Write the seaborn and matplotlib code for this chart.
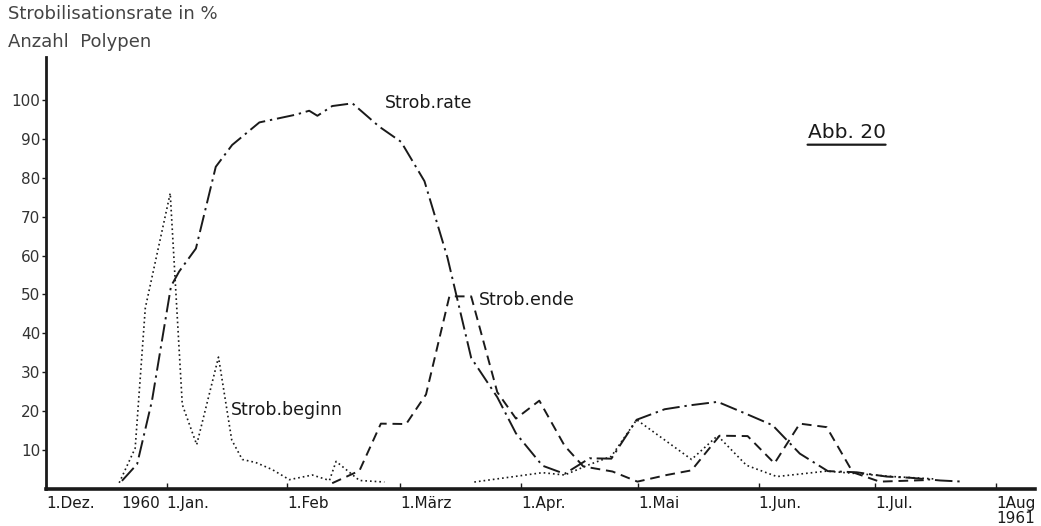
import numpy as np
import pandas as pd
import matplotlib
matplotlib.use("Agg")
import matplotlib.pyplot as plt
import seaborn as sns

# x = days since 1 Dec 1959, y = Strobilisationsrate in % / Anzahl Polypen
rate_day = [19.5, 23.4, 27.2, 32.1, 34.2, 38.5, 43.6, 47.8, 54.8, 64.2, 67.6, 69.7,
            73.5, 78.7, 85.6, 91.2, 97.2, 103.1, 109.2, 115.9, 120.7, 127.5, 133.2,
            139.6, 145.2, 151.7, 158.9, 165.3, 172.5, 179.4, 186.6, 193.6, 200.8,
            208.2, 215.9, 221.9, 229.6, 235.5]
rate_val = [2.1, 6.4, 22.6, 52.1, 55.9, 61.8, 82.8, 88.4, 94.2, 96.2, 97.2, 95.9,
            98.4, 99.1, 93.1, 89.2, 79.1, 59.5, 33.7, 23.6, 14.3, 6.0, 3.9,
            7.9, 7.8, 17.8, 20.5, 21.5, 22.4, 19.5, 16.4, 9.1, 4.6,
            4.3, 3.2, 2.9, 2.2, 1.9]

beginn_day_1 = [18.8, 22.9, 25.5, 31.9, 35.0, 38.7, 44.3, 47.7, 50.4, 53.9, 58.1,
                62.5, 68.4, 72.8, 74.5, 80.5, 86.9]
beginn_val_1 = [1.6, 10.5, 46.5, 76.0, 21.7, 11.4, 33.9, 12.6, 7.6, 6.8, 5.0,
                2.4, 3.6, 2.2, 7.1, 2.2, 1.8]
beginn_day_2 = [110.0, 127.5, 133.2, 139.6, 145.2, 151.7, 158.9, 165.8, 172.5,
                179.9, 187.7, 200.5, 217.5, 228.0]
beginn_val_2 = [1.8, 4.2, 3.6, 6.3, 8.4, 17.8, 12.6, 7.6, 13.7,
                6.1, 3.2, 4.6, 3.2, 2.6]

ende_day = [73.5, 80.5, 86.0, 92.5, 97.6, 103.6, 109.2, 115.9, 120.7, 126.7,
            133.2, 138.0, 145.5, 151.9, 159.4, 165.8, 173.0, 180.2, 187.1,
            193.6, 200.5, 207.2, 214.1, 226.2]
ende_val = [1.5, 4.7, 16.8, 16.7, 24.3, 49.5, 49.5, 24.9, 18.1, 22.7,
            11.1, 5.8, 4.5, 1.9, 3.6, 4.8, 13.7, 13.6, 6.6,
            16.8, 15.9, 4.3, 1.9, 2.3]

month_days = [0, 31, 62, 91, 122, 152, 183, 213, 244]
month_labels = ["1.Dez.", "1.Jan.", "1.Feb", "1.März", "1.Apr.", "1.Mai",
                "1.Jun.", "1.Jul.", "1Aug\n1961"]
y_ticks = [10, 20, 30, 40, 50, 60, 70, 80, 90, 100]

df_rate = pd.DataFrame({"day": rate_day, "val": rate_val})
df_beg = pd.DataFrame({"day": beginn_day_1 + beginn_day_2,
                       "val": beginn_val_1 + beginn_val_2,
                       "seg": [1] * len(beginn_day_1) + [2] * len(beginn_day_2)})
df_end = pd.DataFrame({"day": ende_day, "val": ende_val})

sns.set_theme(style="white")
plt.rcParams["font.family"] = ["DejaVu Sans"]

fig = plt.figure(figsize=(10.41, 5.26), dpi=100)
ax = fig.add_axes([0.0442, 0.0703, 0.9500, 0.8213])

ink = "#1a1a1a"
sns.lineplot(data=df_rate, x="day", y="val", ax=ax, color=ink, lw=1.4,
             estimator=None, sort=False)
ax.lines[-1].set_dashes([9, 2.5, 1.2, 2.5])
sns.lineplot(data=df_beg, x="day", y="val", units="seg", ax=ax, color=ink, lw=1.2,
             estimator=None, sort=False)
for ln in ax.lines[1:]:
    ln.set_dashes([1, 1.8])
sns.lineplot(data=df_end, x="day", y="val", ax=ax, color=ink, lw=1.4,
             estimator=None, sort=False)
ax.lines[-1].set_dashes([5, 3])

ax.set_xlim(0, 254)
ax.set_ylim(0, 111)
ax.set_xlabel("")
ax.set_ylabel("")
sns.despine(ax=ax)
ax.spines["left"].set_color(ink)
ax.spines["left"].set_linewidth(2.0)
ax.spines["bottom"].set_color(ink)
ax.spines["bottom"].set_linewidth(2.6)

ax.set_yticks(y_ticks)
ax.set_yticklabels([str(t) for t in y_ticks], fontsize=11, color="#333333")
ax.tick_params(axis="y", length=3, width=1, color=ink, pad=1, left=True)
ax.set_xticks(month_days)
ax.set_xticklabels(month_labels, fontsize=11, color=ink, ha="left",
                   linespacing=1.0)
ax.tick_params(axis="x", direction="in", length=4, width=1, color=ink, pad=5,
               bottom=True)
for lab in ax.get_xticklabels():
    lab.set_verticalalignment("top")

ax.annotate("1960", xy=(31, 0), xycoords=("data", "axes fraction"),
            xytext=(-5, -5), textcoords="offset points", ha="right", va="top",
            fontsize=11, color=ink)

ax.text(87.1, 99.2, "Strob.rate", fontsize=12.5, color=ink, va="center", ha="left")
ax.text(111.3, 48.6, "Strob.ende", fontsize=12.5, color=ink, va="center", ha="left")
ax.text(47.6, 20.3, "Strob.beginn", fontsize=12.5, color=ink, va="center", ha="left")
abb = ax.text(195.6, 91.5, "Abb. 20", fontsize=14.5, color=ink,
              va="center", ha="left")
ax.annotate("", xy=(1.0, -0.12), xycoords=abb, xytext=(0.0, -0.12),
            textcoords=abb, arrowprops=dict(arrowstyle="-", color=ink, lw=1.6,
                                            shrinkA=0, shrinkB=0))

fig.text(8 / 1041, 1 - 14 / 526, "Strobilisationsrate in %", fontsize=13,
         color="#444444", ha="left", va="center")
fig.text(8 / 1041, 1 - 42 / 526, "Anzahl  Polypen", fontsize=13,
         color="#444444", ha="left", va="center")

fig.savefig("out.png", dpi=100, facecolor="white")
